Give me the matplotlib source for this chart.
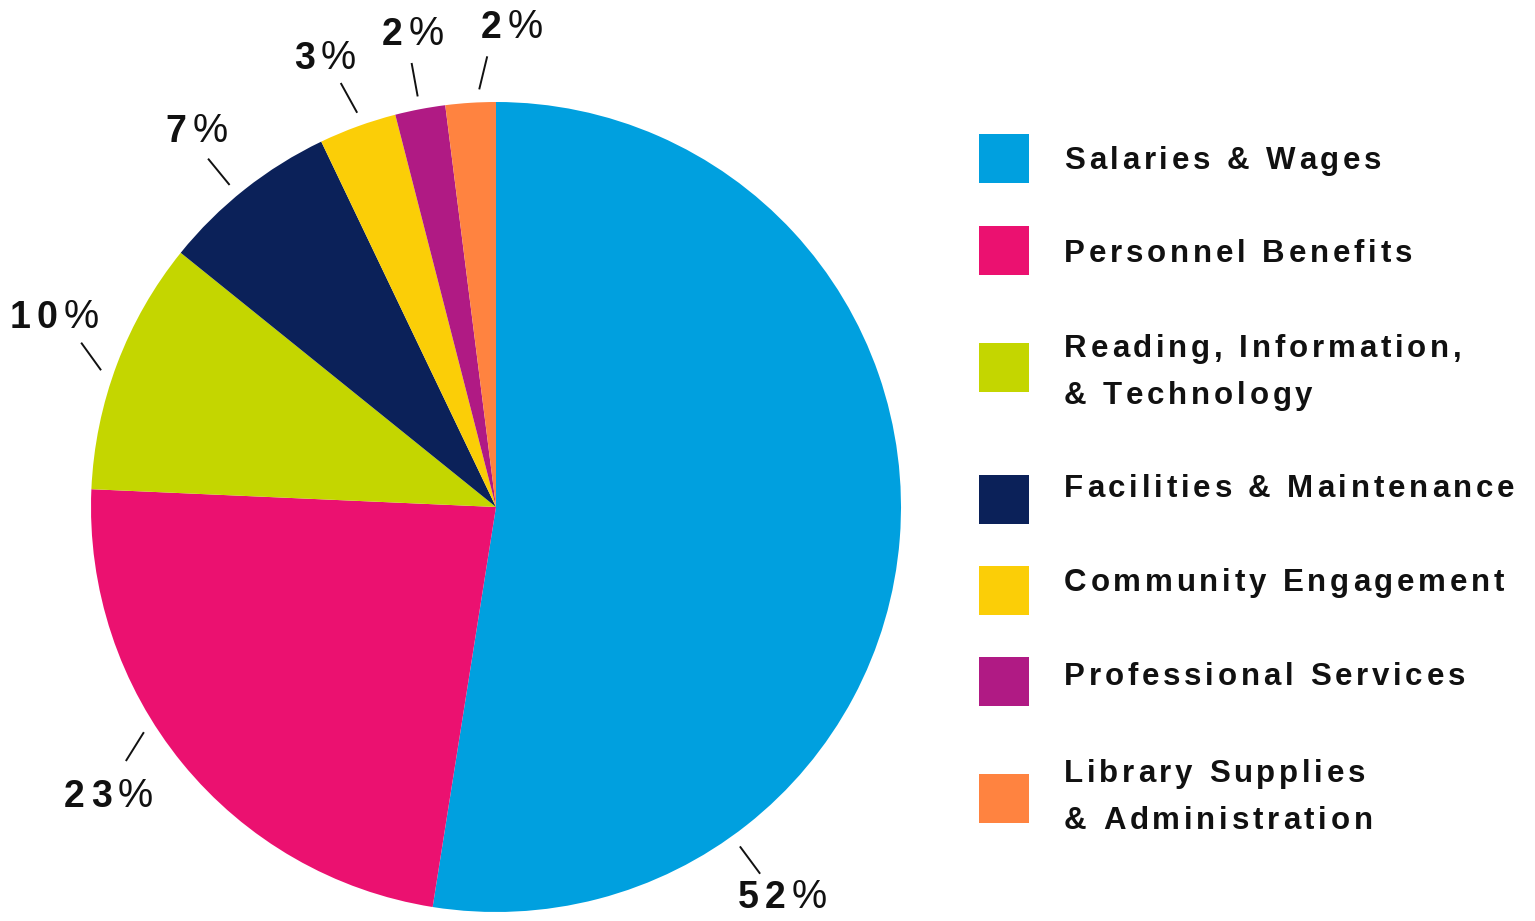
import matplotlib
matplotlib.use("Agg")
import matplotlib.pyplot as plt
from matplotlib import transforms
from matplotlib.font_manager import FontProperties
from matplotlib.patches import Rectangle
import numpy as np

# ---------------- data ----------------
categories = [
    "Salaries & Wages",
    "Personnel Benefits",
    "Reading, Information,\n& Technology",
    "Facilities & Maintenance",
    "Community Engagement",
    "Professional Services",
    "Library Supplies\n& Administration",
]
values = [52.5, 23.2, 10.1, 7.1, 3.1, 2.0, 2.0]
pct_labels = ["52%", "23%", "10%", "7%", "3%", "2%", "2%"]
colors = ["#00A0DF", "#EB1170", "#C4D600", "#0B2159", "#FBCE07", "#B01A84", "#FF8340"]

# label placement (layout only)
# leader line start: clockwise degrees from 12 o'clock; direction in screen degrees
line_pos_angles = [144.3, 237.4, 289.1, 320.4, 340.6, 349.2, 357.7]
line_dirs = [-53.5, -122.0, 125.8, 129.3, 118.9, 100.3, 76.4]
text_angles = [143.6, 233.5, 293.5, 321.6, 339.2, 350.0, 1.9]

W, H, DPI = 1535, 921, 100
CX, CY, R = 496, 507, 405  # pie center / radius in pixels (from top)

fig = plt.figure(figsize=(W / DPI, H / DPI), dpi=DPI)
fig.patch.set_facecolor("white")
ax = fig.add_axes([0, 0, 1, 1])
ax.pie(values, colors=colors, startangle=90, counterclock=False, radius=1,
       wedgeprops=dict(linewidth=0))
ax.set_xlim(-CX / R, (W - CX) / R)
ax.set_ylim(-(H - CY) / R, CY / R)
ax.set_aspect("auto")
ax.axis("off")

renderer = fig.canvas.get_renderer()
ident = transforms.IdentityTransform()
FAM = ["Liberation Sans", "DejaVu Sans"]


def char_w(ch, prop):
    w1, _, _ = renderer.get_text_width_height_descent("|" + ch + "|", prop, ismath=False)
    w0, _, _ = renderer.get_text_width_height_descent("||", prop, ismath=False)
    return w1 - w0


def tracked(x, y_top, s, size, track, weights=None, sizes=None, ha="left"):
    """Draw string s with letter spacing at pixel coords (x, y from top = baseline)."""
    props = []
    for i, ch in enumerate(s):
        wt = weights[i] if weights else "bold"
        sz = sizes[i] if sizes else size
        props.append(FontProperties(family=FAM, size=sz, weight=wt))
    widths = [char_w(ch, p) for ch, p in zip(s, props)]
    total = sum(widths) + track * (len(s) - 1)
    if ha == "center":
        x = x - total / 2
    cx = x
    for ch, p, w in zip(s, props, widths):
        fig.text(cx, H - y_top, ch, fontproperties=p, transform=ident,
                 ha="left", va="baseline", color="#111111")
        cx += w + track


# pie labels and leader lines
L = 34 / R
for lab, pa, d, ta in zip(pct_labels, line_pos_angles, line_dirs, text_angles):
    a = np.deg2rad(pa)
    r0 = 1.032
    x0, y0 = r0 * np.sin(a), r0 * np.cos(a)
    dd = np.deg2rad(d)
    x1, y1 = x0 + L * np.cos(dd), y0 + L * np.sin(dd)
    ax.plot([x0, x1], [y0, y1], color="#111111", lw=1.4, solid_capstyle="butt")
    t = np.deg2rad(ta)
    rt = 1.19
    px = CX + rt * R * np.sin(t)
    py = CY - rt * R * np.cos(t)
    weights = ["bold" if c.isdigit() else "normal" for c in lab]
    sizes = [27 if c.isdigit() else 28.5 for c in lab]
    tracked(px, py + 13, lab, 27, 6.2, weights=weights, sizes=sizes, ha="center")

# legend (manual)
square_tops = [134, 226, 343, 475, 566, 657, 774]
text_baselines = [169, 262, 357, 497, 591, 685, 782]
for cat, col, st, tb in zip(categories, colors, square_tops, text_baselines):
    fig.patches.append(Rectangle((979, H - st - 49), 50, 49, transform=ident,
                                 facecolor=col, edgecolor="none"))
    for k, line in enumerate(cat.split("\n")):
        tracked(1064, tb + 46.5 * k, line, 22.5, 3.8)

fig.savefig("out.png", dpi=DPI)
